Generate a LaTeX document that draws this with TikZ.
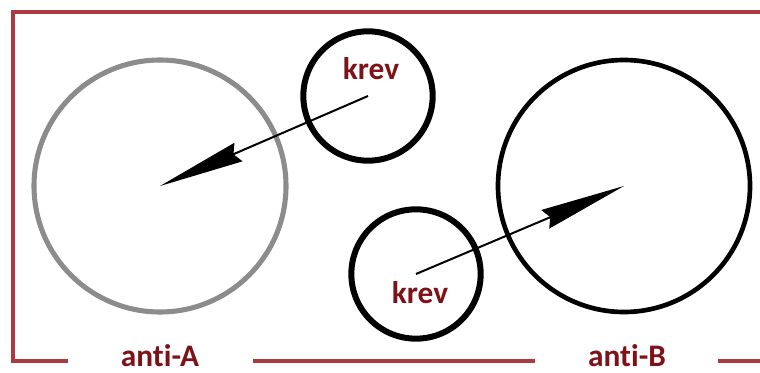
\documentclass[tikz,border=0pt]{standalone}
\usepackage{fontspec}
\setmainfont{Carlito}[Ligatures=NoCommon]
\usepackage{tikz}
\usetikzlibrary{arrows.meta,positioning}
\definecolor{blutrot}{RGB}{125,18,24}
\definecolor{rahmenrot}{RGB}{172,58,64}
\definecolor{serumgrau}{RGB}{140,140,140}

\begin{document}
\begin{tikzpicture}
[x=0.75pt,y=0.75pt,
serum/.style={circle,draw=black,line width=3.5pt,inner sep=0pt,minimum size=189pt},
zelle/.style={circle,draw=black,line width=4.5pt,inner sep=0pt,minimum size=97pt},
pfeil/.style={line width=1.5pt,-{Stealth[length=64pt,width=15pt,inset=4pt]}},
rahmen/.style={draw=rahmenrot,line width=2.3pt},
txt/.style={text=blutrot,font=\fontsize{23.5}{28}\selectfont\bfseries,anchor=base,inner sep=0pt}]
\useasboundingbox (0,0) rectangle (760,372);

% frame
\draw[rahmen] (68,11) -| (13,360) -- (760,360);
\draw[rahmen] (253,11) -- (535,11);
\draw[rahmen] (718,11) -- (760,11);

\node[serum,draw=serumgrau,line width=3.8pt] (A) at (160,186) {};
\node[serum] (B) at (624,186) {};
\node[zelle] (k1) at (368,276) {};
\node[zelle] (k2) at (416,98) {};

\node[txt] (l1) at (371,292) {krev};
\node[txt] (l2) at (420,69) {krev};
\node[txt] (la) at (160,6) {anti-A};
\node[txt] (lb) at (627,6) {anti-B};

\draw[pfeil] (k1.center) -- (A.center);
\draw[pfeil] (k2.center) -- (B.center);
\end{tikzpicture}
\end{document}
